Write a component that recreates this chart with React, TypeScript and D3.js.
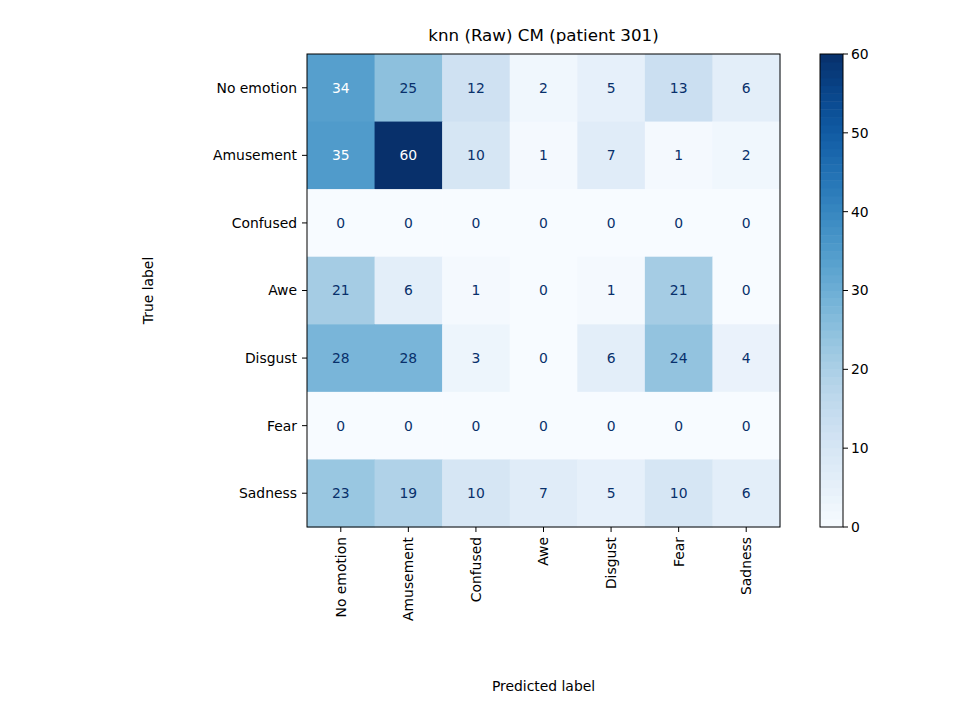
import React from "react";
import * as d3 from "d3";

const labels = ["No emotion", "Amusement", "Confused", "Awe", "Disgust", "Fear", "Sadness"];
const matrix = [
  [34, 25, 12, 2, 5, 13, 6],
  [35, 60, 10, 1, 7, 1, 2],
  [0, 0, 0, 0, 0, 0, 0],
  [21, 6, 1, 0, 1, 21, 0],
  [28, 28, 3, 0, 6, 24, 4],
  [0, 0, 0, 0, 0, 0, 0],
  [23, 19, 10, 7, 5, 10, 6],
];
const cbTicks = [0, 10, 20, 30, 40, 50, 60];

export default function App() {
  const left = 307, right = 780, top = 54, bottom = 527;
  const x = d3.scaleBand<number>().domain(d3.range(7)).range([left, right]);
  const y = d3.scaleBand<number>().domain(d3.range(7)).range([top, bottom]);
  const color = d3.scaleSequential(d3.interpolateBlues).domain([0, 60]);
  const cb = d3.scaleLinear().domain([0, 60]).range([bottom, top]);
  const cbX = 820, cbW = 23;
  const font = "DejaVu Sans, sans-serif";
  const grad = d3.range(0, 61, 1);
  return (
    <div style={{ position: "fixed", left: 0, top: 0 }}>
      <svg width={960} height={720} style={{ fontFamily: font, display: "block" }}>
        <rect width={960} height={720} fill="white" />
        <text x={543.5} y={41} textAnchor="middle" fontSize={16.7}>knn (Raw) CM (patient 301)</text>
        {matrix.map((row, i) =>
          row.map((v, j) => (
            <g key={`${i}-${j}`}>
              <rect x={x(j)} y={y(i)} width={x.bandwidth() + 0.5} height={y.bandwidth() + 0.5} fill={color(v)} />
              <text x={x(j)! + x.bandwidth() / 2} y={y(i)! + y.bandwidth() / 2} dy="0.35em" textAnchor="middle" fontSize={13.9}
                fill={v > 30 ? "white" : "#08306b"}>{v}</text>
            </g>
          ))
        )}
        <rect x={left} y={top} width={right - left} height={bottom - top} fill="none" stroke="black" strokeWidth={1} />
        {labels.map((l, i) => (
          <g key={l}>
            <line x1={left - 5} x2={left} y1={y(i)! + y.bandwidth() / 2} y2={y(i)! + y.bandwidth() / 2} stroke="black" />
            <text x={left - 10} y={y(i)! + y.bandwidth() / 2} dy="0.35em" textAnchor="end" fontSize={13.9}>{l}</text>
            <line x1={x(i)! + x.bandwidth() / 2} x2={x(i)! + x.bandwidth() / 2} y1={bottom} y2={bottom + 5} stroke="black" />
            <text transform={`translate(${x(i)! + x.bandwidth() / 2},${bottom + 10}) rotate(-90)`} dy="0.35em" textAnchor="end" fontSize={13.9}>{l}</text>
          </g>
        ))}
        <text x={543.5} y={691} textAnchor="middle" fontSize={13.9}>Predicted label</text>
        <text transform="translate(153,290.5) rotate(-90)" textAnchor="middle" fontSize={13.9}>True label</text>
        {grad.slice(0, -1).map((g) => (
          <rect key={g} x={cbX} y={cb(g + 1)} width={cbW} height={cb(g) - cb(g + 1) + 0.5} fill={color(g + 0.5)} />
        ))}
        <rect x={cbX} y={top} width={cbW} height={bottom - top} fill="none" stroke="black" />
        {cbTicks.map((t) => (
          <g key={t}>
            <line x1={cbX + cbW} x2={cbX + cbW + 5} y1={cb(t)} y2={cb(t)} stroke="black" />
            <text x={cbX + cbW + 8} y={cb(t)} dy="0.35em" fontSize={13.9}>{t}</text>
          </g>
        ))}
      </svg>
    </div>
  );
}
